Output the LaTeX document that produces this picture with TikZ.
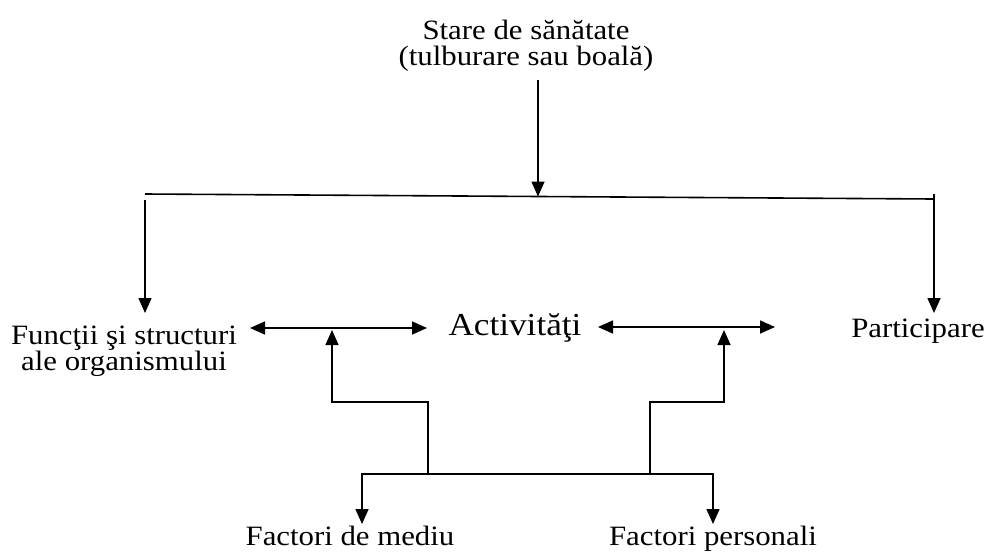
\documentclass[tikz,border=0pt]{standalone}
\usepackage{fontspec}
\setmainfont{Liberation Serif}[FakeStretch=1.1]
\usetikzlibrary{arrows.meta}

\begin{document}
\begin{tikzpicture}[x=1pt, y=-1pt,
        txt/.style={inner sep=0pt, align=center, font=\fontsize{28}{26}\selectfont},
        big/.style={inner sep=0pt, font=\fontsize{32}{30}\selectfont},
        ln/.style={line width=1.6pt},
        arr/.style={ln, -{Triangle[length=15pt,width=13pt]}},
        dbl/.style={ln, {Triangle[length=15pt,width=13pt]}-{Triangle[length=15pt,width=13pt]}}
      ]
      \useasboundingbox (0,0) rectangle (985,552);

      % texts
      \node[txt] (stare)    at (526,46)              {Stare de sănătate\\(tulburare sau boală)};
      \node[txt] (functii)  at (124,351)             {Funcţii şi structuri\\ale organismului};
      \node[big, anchor=base] (activ)    at (515,335) {Activităţi};
      \node[txt, anchor=base] (particip) at (918,337) {Participare};
      \node[txt, anchor=base] (mediu)    at (350,545) {Factori de mediu};
      \node[txt, anchor=base] (personal) at (713,545) {Factori personali};

      % junction points
      \coordinate (barL) at (145,194);
      \coordinate (barR) at (934,199);
      \coordinate (barM) at (538,196.5);
      \coordinate (stareOut) at (538,80);
      \coordinate (fTop) at (145,200);
      \coordinate (pTop) at (934,194);
      \coordinate (fIn)  at (145,313);
      \coordinate (pIn)  at (934,313);

      \coordinate (fa1) at (250,328);
      \coordinate (fa2) at (427,328);
      \coordinate (ap1) at (598,327);
      \coordinate (ap2) at (775,327);

      \coordinate (upL) at (332,330);
      \coordinate (upR) at (724,330);
      \coordinate (stepL) at (428,402);
      \coordinate (stepR) at (650,402);
      \coordinate (footL) at (428,474);
      \coordinate (footR) at (650,474);
      \coordinate (mIn) at (362,524);
      \coordinate (pers) at (713,524);

      % top part
      \draw[arr] (stareOut) -- (barM);
      \draw[ln] (barL) -- (barR);
      \draw[arr] (fTop) -- (fIn);
      \draw[arr] (pTop) -- (pIn);

      % middle row
      \draw[dbl] (fa1) -- (fa2);
      \draw[dbl] (ap1) -- (ap2);

      % factors
      \draw[arr] (footL) -- (stepL) -| (upL);
      \draw[arr] (footR) -- (stepR) -| (upR);
      \draw[dbl] (mIn) |- (footL) -- (footR) -| (pers);
    \end{tikzpicture}
\end{document}
